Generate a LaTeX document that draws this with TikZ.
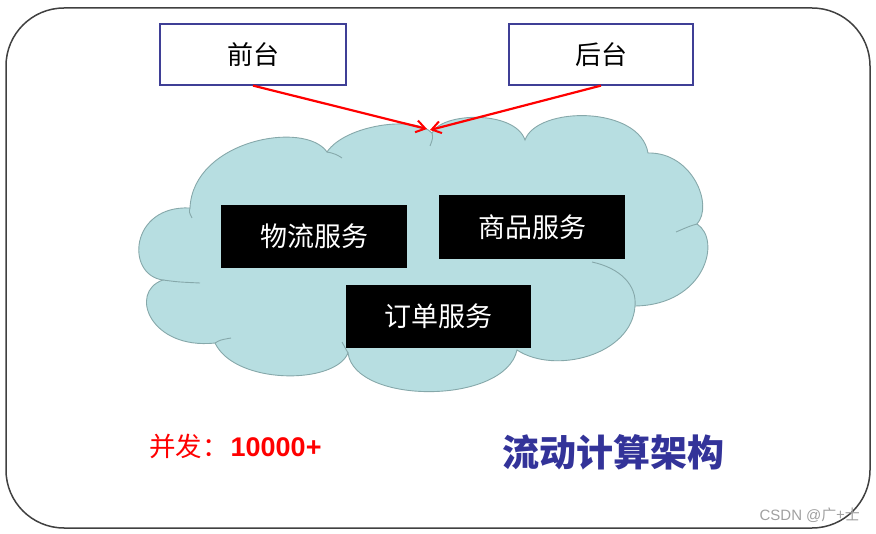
\documentclass[tikz,border=0pt]{standalone}
\usepackage{fontspec}
\setmainfont{Liberation Sans}
\newfontfamily\cjk{Noto Sans CJK SC}
\usetikzlibrary{arrows.meta}
\definecolor{framegray}{HTML}{404040}
\definecolor{boxblue}{HTML}{3F3F96}
\definecolor{cloudfill}{HTML}{B7DEE1}
\definecolor{cloudline}{HTML}{86A8AA}
\definecolor{titleblue}{HTML}{333399}
\definecolor{arrowred}{HTML}{FF0000}
\definecolor{wmgray}{HTML}{A0A0A0}
\tikzset{
  topbox/.style={draw=boxblue, line width=1.2pt, fill=white, inner sep=0pt,
    font=\cjk\fontsize{26}{30}\selectfont, text=black},
  svcbox/.style={fill=black, inner sep=0pt, text=white,
    font=\cjk\fontsize{27}{32}\selectfont},
  cloudedge/.style={draw=cloudline, line width=0.9pt},
  redarrow/.style={draw=arrowred, line width=2.2pt, -{Straight Barb[length=9pt,width=12pt,line width=2pt]}},
}
\begin{document}
\begin{tikzpicture}[x=1pt,y=-1pt]
\useasboundingbox (0,0) rectangle (876,534);
\draw[framegray, line width=1.5pt, rounded corners=58pt] (6,8) rectangle (870,528);

% cloud
\path[cloudedge, fill=cloudfill]
  (190,208) .. controls (193,140) and (305,120) .. (327,152)
  .. controls (345,125) and (415,115) .. (432,133)
  .. controls (442,112) and (515,110) .. (525,140)
  .. controls (537,106) and (640,105) .. (648,153)
  .. controls (692,152) and (714,205) .. (697,224)
  .. controls (722,240) and (705,305) .. (635,306)
  .. controls (632,355) and (555,375) .. (517,350)
  .. controls (505,405) and (355,405) .. (348,353)
  .. controls (335,385) and (235,385) .. (215,343)
  .. controls (150,350) and (128,292) .. (163,280)
  .. controls (125,275) and (130,205) .. (190,208) -- cycle;
\draw[cloudedge] (327,152) .. controls (333,153) and (338,155) .. (342,158);
\draw[cloudedge] (432,133) .. controls (433,138) .. (430,146);
\draw[cloudedge] (697,224) .. controls (690,226) .. (676,232);
\draw[cloudedge] (635,306) .. controls (637,285) and (620,268) .. (592,262);
\draw[cloudedge] (215,343) .. controls (220,340) .. (231,338);
\draw[cloudedge] (163,280) .. controls (178,282) .. (200,283);
\draw[cloudedge] (190,208) .. controls (189,212) .. (192,218);
\draw[cloudedge] (348,353) .. controls (345,348) .. (342,342);

\node[topbox, minimum width=186pt, minimum height=61pt] (ft) at (253,54.5) {前台};
\node[topbox, minimum width=184pt, minimum height=61pt] (bt) at (601,54.5) {后台};

\coordinate (tipl) at (427,129);
\coordinate (tipr) at (430,130);
\draw[redarrow] (ft.south) -- (tipl);
\draw[redarrow] (bt.south) -- (tipr);

\node[svcbox, minimum width=186pt, minimum height=63pt] (wl) at (314,236.5) {物流服务};
\node[svcbox, minimum width=186pt, minimum height=64pt] (sp) at (532,227) {商品服务};
\node[svcbox, minimum width=185pt, minimum height=63pt] (dd) at (438.5,316.5) {订单服务};

\node[anchor=west, inner sep=0pt, text=arrowred] (bf) at (149,446)
  {{\cjk\fontsize{26.5}{28}\selectfont 并发：}\hspace{2pt}{\bfseries\fontsize{27}{28}\selectfont 10000+}};
\node[inner sep=0pt, text=titleblue, font=\cjk\bfseries\fontsize{37}{40}\selectfont] (title) at (613,452) {流动计算架构};
\node[anchor=east, inner sep=0pt, text=wmgray, font=\fontsize{15}{17}\selectfont] (wm) at (860,515) {CSDN @{\cjk 广+士}};
\end{tikzpicture}
\end{document}
